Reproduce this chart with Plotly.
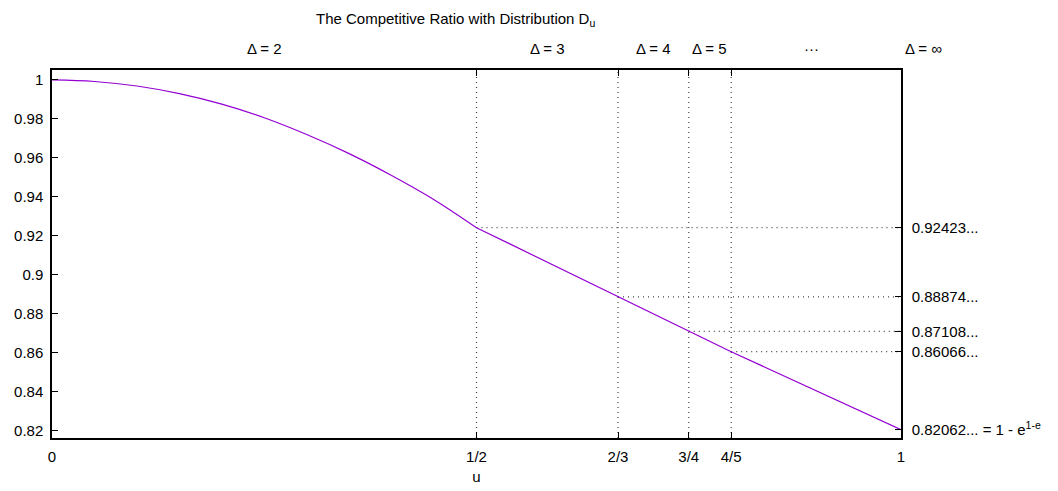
import plotly.graph_objects as go

# curve (smooth part on [0, 1/2], then straight pieces)
curve_u = [0.0, 0.05, 0.1, 0.15, 0.2, 0.25, 0.3, 0.35, 0.4, 0.45, 0.5]
curve_vals = [1.0, 0.9992, 0.9969, 0.9930, 0.9876, 0.9806, 0.9720, 0.9622, 0.9510, 0.9386, 0.92423]

# marked points (piecewise-linear part)
mark_u = [0.5, 2/3, 0.75, 0.8, 1.0]
mark_vals = [0.92423, 0.88874, 0.87108, 0.86066, 0.82062]
mark_labels = ["0.92423...", "0.88874...", "0.87108...", "0.86066...",
               "0.82062... = 1 - e<sup>1-e</sup>"]

x_ticks = [0, 0.5, 2/3, 0.75, 0.8, 1]
x_ticktext = ["0", "1/2", "2/3", "3/4", "4/5", "1"]
y_ticks = [0.82, 0.84, 0.86, 0.88, 0.9, 0.92, 0.94, 0.96, 0.98, 1.0]
y_ticktext = ["0.82", "0.84", "0.86", "0.88", "0.9", "0.92", "0.94", "0.96", "0.98", "1"]

top_pos = [0.25, 0.5833, 0.7083, 0.775, 0.895, 1.026]
top_text = ["Δ = 2", "Δ = 3", "Δ = 4", "Δ = 5", "···", "Δ = ∞"]

X_RANGE = [0, 1]
Y_RANGE = [0.8164, 1.0051]
FONT = "Liberation Sans, Arial, Helvetica, sans-serif"
DOT = dict(color="#444444", width=1.2, dash="1px,4px")
PURPLE = "#9400D3"

fig = go.Figure()

# vertical dotted lines
for xv in mark_u[:-1]:
    fig.add_trace(go.Scatter(x=[xv, xv], y=Y_RANGE, mode="lines", line=DOT,
                             hoverinfo="skip", showlegend=False))
# horizontal dotted lines
for xv, yv in zip(mark_u[:-1], mark_vals[:-1]):
    fig.add_trace(go.Scatter(x=[xv, 1], y=[yv, yv], mode="lines", line=DOT,
                             hoverinfo="skip", showlegend=False))

fig.add_trace(go.Scatter(x=curve_u, y=curve_vals, mode="lines",
                         line=dict(color=PURPLE, width=1.2, shape="spline", smoothing=1.0),
                         showlegend=False))
fig.add_trace(go.Scatter(x=mark_u, y=mark_vals, mode="lines",
                         line=dict(color=PURPLE, width=1.2),
                         showlegend=False))

# invisible trace for y2 axis
fig.add_trace(go.Scatter(x=[None], y=[None], yaxis="y2", showlegend=False))

fig.update_layout(
    width=1050, height=483,
    margin=dict(l=44, r=157, t=62, b=53),
    plot_bgcolor="white", paper_bgcolor="white",
    font=dict(family=FONT, size=15, color="black"),
    xaxis=dict(range=X_RANGE, tickvals=x_ticks, ticktext=x_ticktext,
               ticks="inside", ticklen=6, tickcolor="black",
               showline=True, linecolor="black", linewidth=1.5, mirror="ticks",
               showgrid=False, zeroline=False, ticklabelstandoff=4, automargin=False,
               title=dict(text="u", standoff=8, font=dict(size=15))),
    yaxis=dict(range=Y_RANGE, tickvals=y_ticks, ticktext=y_ticktext,
               ticks="inside", ticklen=6, tickcolor="black",
               showline=True, linecolor="black", linewidth=1.5,
               showgrid=False, zeroline=False, ticklabelstandoff=4, automargin=False),
    yaxis2=dict(range=Y_RANGE, overlaying="y", side="right",
                tickvals=mark_vals, ticktext=mark_labels,
                ticks="inside", ticklen=6, tickcolor="black",
                showline=True, linecolor="black", linewidth=1.5,
                showgrid=False, zeroline=False, ticklabelstandoff=6, automargin=False),
)

for xp, tt in zip(top_pos, top_text):
    fig.add_annotation(x=xp, y=1, xref="paper", yref="paper", yshift=22,
                       text=tt, showarrow=False, font=dict(size=15),
                       xanchor="center", yanchor="middle")

fig.add_annotation(x=0.475, y=1, xref="paper", yref="paper", yshift=51,
                   text="The Competitive Ratio with Distribution D<sub>u</sub>",
                   showarrow=False, font=dict(size=15),
                   xanchor="center", yanchor="middle")

fig.write_html("out.html")
